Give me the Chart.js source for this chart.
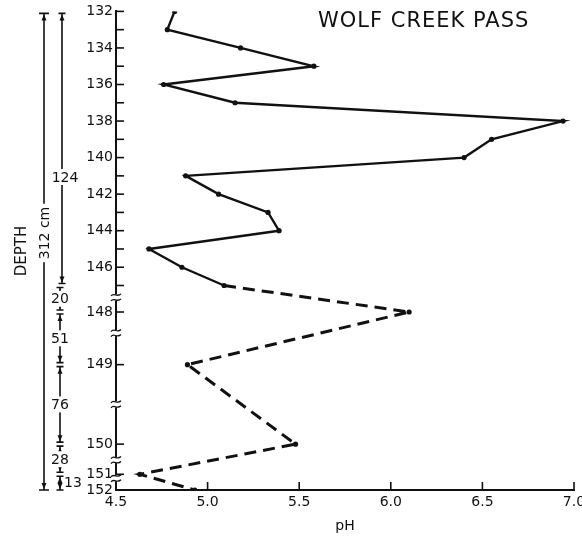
<!DOCTYPE html>
<html>
<head>
<meta charset="utf-8">
<script src="https://cdn.jsdelivr.net/npm/chart.js@4.4.1/dist/chart.umd.min.js"></script>
<style>
  html, body { margin: 0; padding: 0; background: #fff; }
  #wrap { width: 582px; height: 538px; }
</style>
</head>
<body>
<div id="wrap"><canvas id="c" width="582" height="538"></canvas></div>
<script>
// ---- data ----
const samples = [132,133,134,135,136,137,138,139,140,141,142,143,144,145,146,147,148,149,150,151,152];
// position of each sample on the broken depth axis (upper part: one unit per sample)
const samplePos = [0,1,2,3,4,5,6,7,8,9,10,11,12,13,14,15,16.45,19.33,23.68,25.33,26.19];
const pHValues = [4.82,4.78,5.18,5.58,4.76,5.15,6.94,6.55,6.40,4.88,5.06,5.33,5.39,4.68,4.86,5.09,6.10,4.89,5.48,4.63,4.93];
const yTickLabels = ['132','','134','','136','','138','','140','','142','','144','','146','','148','149','150','151','152'];
const xTickValues = [4.5,5.0,5.5,6.0,6.5,7.0];
const xTickLabels = ['4.5','5.0','5.5','6.0','6.5','7.0'];
const breakPos = [15.65, 17.6, 21.5, 24.55, 25.55];
const layerLabels = ['124','20','51','76','28','13'];
const layerBounds = [[132,147],[147,148],[148,149],[149,150],[150,151],[151,152]];
const totalLabel = '312 cm';
const depthTitle = 'DEPTH';
const chartTitle = 'WOLF CREEK PASS';
const firstDashedIndex = 15;

const FONT = '"DejaVu Sans", sans-serif';
const points = pHValues.map((v, i) => ({ x: v, y: samplePos[i] }));
const posOf = s => samplePos[samples.indexOf(s)];

function arrowHead(ctx, x, y, dir) {
  ctx.beginPath();
  ctx.moveTo(x, y);
  ctx.lineTo(x - 2.5, y - dir * 6);
  ctx.lineTo(x + 2.5, y - dir * 6);
  ctx.closePath();
  ctx.fill();
}
function bracket(ctx, x, y0, y1, capW) {
  ctx.beginPath();
  ctx.moveTo(x, y0); ctx.lineTo(x, y1);
  ctx.moveTo(x - capW, y0); ctx.lineTo(x + capW, y0);
  ctx.moveTo(x - capW, y1); ctx.lineTo(x + capW, y1);
  ctx.stroke();
  arrowHead(ctx, x, y0 + 1, -1);
  arrowHead(ctx, x, y1 - 1, 1);
}

const decor = {
  id: 'decor',
  afterDraw(chart) {
    const ctx = chart.ctx;
    const ys = chart.scales.y, xs = chart.scales.x;
    const area = chart.chartArea;
    ctx.save();
    ctx.strokeStyle = '#111';
    ctx.fillStyle = '#111';
    ctx.lineWidth = 1.6;
    // inward y ticks
    ys.ticks.forEach(t => {
      const y = ys.getPixelForValue(t.value);
      if (t.value === samplePos[samplePos.length - 1]) return;
      ctx.beginPath(); ctx.moveTo(area.left, y); ctx.lineTo(area.left + 8, y); ctx.stroke();
    });
    // inward x ticks
    xs.ticks.forEach(t => {
      if (t.value === xs.min) return;
      const x = xs.getPixelForValue(t.value);
      ctx.beginPath(); ctx.moveTo(x, area.bottom); ctx.lineTo(x, area.bottom - 8); ctx.stroke();
    });
    // axis breaks
    breakPos.forEach(p => {
      const y = ys.getPixelForValue(p);
      const x = area.left;
      ctx.fillStyle = '#fff';
      ctx.fillRect(x - 5, y - 3, 10, 6);
      ctx.fillStyle = '#111';
      ctx.lineWidth = 1.3;
      [-2.5, 2.5].forEach(dy => {
        ctx.beginPath();
        ctx.moveTo(x - 5, y + dy + 1);
        ctx.bezierCurveTo(x - 2, y + dy - 3, x + 1, y + dy + 3, x + 5, y + dy - 1);
        ctx.stroke();
      });
    });
    // title
    ctx.font = '21px ' + FONT;
    ctx.textAlign = 'left';
    ctx.textBaseline = 'alphabetic';
    try { ctx.letterSpacing = '1px'; } catch (e) {}
    ctx.fillText(chartTitle, 318, 27);
    try { ctx.letterSpacing = '0px'; } catch (e) {}

    // depth brackets
    ctx.lineWidth = 1.6;
    const topY = ys.getPixelForValue(posOf(132)) + 2;
    const botY = ys.getPixelForValue(posOf(152));
    const outerX = 44;
    bracket(ctx, outerX, topY, botY, 5);
    layerBounds.forEach((b, i) => {
      const y0 = i === 0 ? topY : ys.getPixelForValue(posOf(b[0])) + 2;
      const y1 = ys.getPixelForValue(posOf(b[1])) - (i === layerBounds.length - 1 ? 0 : 2);
      const x = i === 0 ? 62 : 60;
      bracket(ctx, x, y0, y1, 3.5);
    });
    // labels for layers
    ctx.font = '14px ' + FONT;
    ctx.textAlign = 'center';
    ctx.textBaseline = 'middle';
    layerBounds.forEach((b, i) => {
      const y0 = ys.getPixelForValue(posOf(b[0]));
      const y1 = ys.getPixelForValue(posOf(b[1]));
      let ym = (y0 + y1) / 2;
      if (i === 0) ym = 177;
      const label = layerLabels[i];
      if (i === layerBounds.length - 1) {
        ctx.textAlign = 'left';
        ctx.fillText(label, 64, ym + 1);
        ctx.textAlign = 'center';
      } else {
        const x = i === 0 ? 65 : 60;
        const w = ctx.measureText(label).width;
        ctx.fillStyle = '#fff';
        ctx.fillRect(x - w / 2 - 1, ym - 8, w + 2, 16);
        ctx.fillStyle = '#111';
        ctx.fillText(label, x, ym + 1);
      }
    });
    // rotated texts
    ctx.save();
    ctx.translate(outerX, 233);
    ctx.rotate(-Math.PI / 2);
    const tw = ctx.measureText(totalLabel).width;
    ctx.fillStyle = '#fff';
    ctx.fillRect(-tw / 2 - 3, -8, tw + 6, 16);
    ctx.fillStyle = '#111';
    ctx.fillText(totalLabel, 0, 1);
    ctx.restore();
    ctx.save();
    ctx.translate(21, 251);
    ctx.rotate(-Math.PI / 2);
    ctx.font = '15px ' + FONT;
    ctx.fillText(depthTitle, 0, 1);
    ctx.restore();
    ctx.restore();
  }
};

new Chart(document.getElementById('c'), {
  type: 'scatter',
  data: {
    datasets: [{
      data: points,
      showLine: true,
      borderColor: '#111',
      backgroundColor: '#111',
      borderWidth: 2.4,
      pointRadius: 2.6,
      pointHoverRadius: 2.6,
      pointBackgroundColor: '#111',
      pointBorderWidth: 0,
      tension: 0,
      segment: {
        borderDash: c => c.p0DataIndex >= firstDashedIndex ? [12, 7] : undefined,
        borderWidth: c => c.p0DataIndex >= firstDashedIndex ? 3 : undefined
      }
    }]
  },
  options: {
    responsive: false,
    animation: false,
    events: [],
    layout: { padding: { left: 76, top: 10, right: 0, bottom: 0 } },
    plugins: { legend: { display: false }, tooltip: { enabled: false }, title: { display: false } },
    scales: {
      x: {
        type: 'linear',
        min: 4.5, max: 7.0,
        grid: { display: false, drawTicks: false },
        border: { display: true, color: '#111', width: 2 },
        afterBuildTicks: s => { s.ticks = xTickValues.map(v => ({ value: v })); },
        afterFit: s => { s.height = 48; s.paddingRight = 8; },
        ticks: {
          autoSkip: false, maxRotation: 0, padding: 4, color: '#111',
          font: { family: FONT, size: 14 },
          callback: (v, i) => xTickLabels[i]
        },
        title: { display: true, text: 'pH', color: '#111', font: { family: FONT, size: 14 }, padding: { top: 0, bottom: 3 } }
      },
      y: {
        type: 'linear',
        reverse: true,
        min: 0, max: samplePos[samplePos.length - 1],
        grid: { display: false, drawTicks: false },
        border: { display: true, color: '#111', width: 2 },
        afterBuildTicks: s => { s.ticks = samplePos.map(v => ({ value: v })); },
        afterFit: s => { s.width = 40; },
        ticks: {
          autoSkip: false, padding: 3, color: '#111',
          font: { family: FONT, size: 14 },
          callback: (v, i) => yTickLabels[i]
        }
      }
    }
  },
  plugins: [decor]
});
</script>
</body>
</html>
